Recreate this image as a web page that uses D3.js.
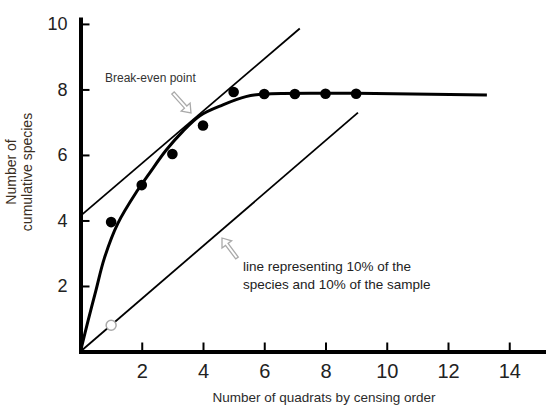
<!DOCTYPE html>
<html>
<head>
<meta charset="utf-8">
<script src="https://cdn.jsdelivr.net/npm/d3@7"></script>
<style>
  body { margin: 0; background: #fff; }
  svg { display: block; font-family: "Liberation Sans", Arial, sans-serif; }
</style>
</head>
<body>
<div id="main"></div>
<script>
// data
var quadrats = [1, 2, 3, 4, 5, 6, 7, 8, 9];
var species = [3.95, 5.08, 6.03, 6.9, 7.92, 7.86, 7.86, 7.87, 7.87];
var refPoint = [1, 0.8];
// fitted accumulation curve
var curveX = [0, 0.25, 0.5, 0.78, 1.22, 1.87, 2.25, 2.8, 3.34, 3.9, 4.65, 5.4, 6, 9, 13.27];
var curveY = [0, 0.95, 1.85, 2.85, 3.91, 4.93, 5.44, 6.15, 6.72, 7.2, 7.53, 7.78, 7.86, 7.88, 7.83];
// straight lines: tangent (break-even) and 10%/10% line
var tangentX = [0, 7.16], tangentY = [4.14, 9.86];
var tenPctX = [0, 9.06], tenPctY = [0, 7.29];
var xTicks = [2, 4, 6, 8, 10, 12, 14];
var yTicks = [2, 4, 6, 8, 10];

var W = 546, H = 406;

var svg = d3.select("#main")
  .append("svg")
    .attr("width", W)
    .attr("height", H);

var x = d3.scaleLinear().domain([0, 15.2]).range([80.5, 546]);
var y = d3.scaleLinear().domain([0, 10.15]).range([351.5, 19]);

// axes
var xAxis = svg.append("g")
  .attr("transform", "translate(0," + y(0) + ")")
  .call(d3.axisBottom(x).tickValues(xTicks).tickFormat(d3.format("d"))
    .tickSizeInner(-9).tickSizeOuter(0).tickPadding(12));
xAxis.selectAll("text").style("font-size", "20px").attr("fill", "#222");

var yAxis = svg.append("g")
  .attr("transform", "translate(" + x(0) + ",0)")
  .call(d3.axisLeft(y).tickValues(yTicks).tickFormat(d3.format("d"))
    .tickSizeInner(-9).tickSizeOuter(0).tickPadding(13));
yAxis.selectAll("text").style("font-size", "18px").attr("fill", "#222");

svg.selectAll(".domain").attr("stroke", "#000").attr("stroke-width", 4).attr("stroke-linecap", "square");
svg.selectAll(".tick line").attr("stroke", "#000").attr("stroke-width", 2);

// axis titles
svg.append("text")
  .attr("x", 324)
  .attr("y", 402)
  .attr("text-anchor", "middle")
  .style("font-size", "13.5px")
  .attr("fill", "#2b2b2b")
  .text("Number of quadrats by censing order");

var yt = svg.append("text")
  .attr("transform", "translate(0,172) rotate(-90)")
  .attr("text-anchor", "middle")
  .style("font-size", "14px")
  .attr("fill", "#3a2e22");
yt.append("tspan").attr("x", 0).attr("y", 15.5).text("Number of");
yt.append("tspan").attr("x", 0).attr("y", 32).text("cumulative species");

// straight lines
var line = d3.line().x(function(d) { return x(d[0]); }).y(function(d) { return y(d[1]); });

svg.append("path")
  .datum(d3.zip(tangentX, tangentY))
  .attr("d", line)
  .attr("fill", "none")
  .attr("stroke", "#000")
  .attr("stroke-width", 1.8);

svg.append("path")
  .datum(d3.zip(tenPctX, tenPctY))
  .attr("d", line)
  .attr("fill", "none")
  .attr("stroke", "#000")
  .attr("stroke-width", 1.8);

// accumulation curve
svg.append("path")
  .datum(d3.zip(curveX, curveY))
  .attr("d", line.curve(d3.curveCatmullRom.alpha(0.5)))
  .attr("fill", "none")
  .attr("stroke", "#000")
  .attr("stroke-width", 3);

// observed points
svg.selectAll(".dot")
  .data(d3.zip(quadrats, species))
  .enter()
  .append("circle")
    .attr("class", "dot")
    .attr("cx", function(d) { return x(d[0]); })
    .attr("cy", function(d) { return y(d[1]); })
    .attr("r", 5.3)
    .attr("fill", "#000");

svg.append("circle")
  .attr("cx", x(refPoint[0]))
  .attr("cy", y(refPoint[1]))
  .attr("r", 5)
  .attr("fill", "#fff")
  .attr("stroke", "#aaa")
  .attr("stroke-width", 1.5);

// hollow grey arrows
function arrow(x1, y1, x2, y2) {
  var len = Math.hypot(x2 - x1, y2 - y1);
  var ang = Math.atan2(y2 - y1, x2 - x1) * 180 / Math.PI;
  var sw = 1.6, hw = 6, hl = 8;
  var pts = [[0, -sw], [len - hl, -sw], [len - hl, -hw], [len, 0], [len - hl, hw], [len - hl, sw], [0, sw]];
  svg.append("polygon")
    .attr("points", pts.map(function(p) { return p.join(","); }).join(" "))
    .attr("transform", "translate(" + x1 + "," + y1 + ") rotate(" + ang + ")")
    .attr("fill", "#fff")
    .attr("stroke", "#aaa")
    .attr("stroke-width", 1.3);
}
arrow(173, 93, 191, 113);
arrow(237, 258, 222, 238);

// annotations
svg.append("text")
  .attr("x", 105)
  .attr("y", 82)
  .style("font-size", "12px")
  .attr("fill", "#333")
  .text("Break-even point");

var note = svg.append("text")
  .style("font-size", "13.5px")
  .attr("fill", "#222");
note.append("tspan").attr("x", 243).attr("y", 271).text("line representing 10% of the");
note.append("tspan").attr("x", 243).attr("y", 289).text("species and 10% of the sample");
</script>
</body>
</html>
